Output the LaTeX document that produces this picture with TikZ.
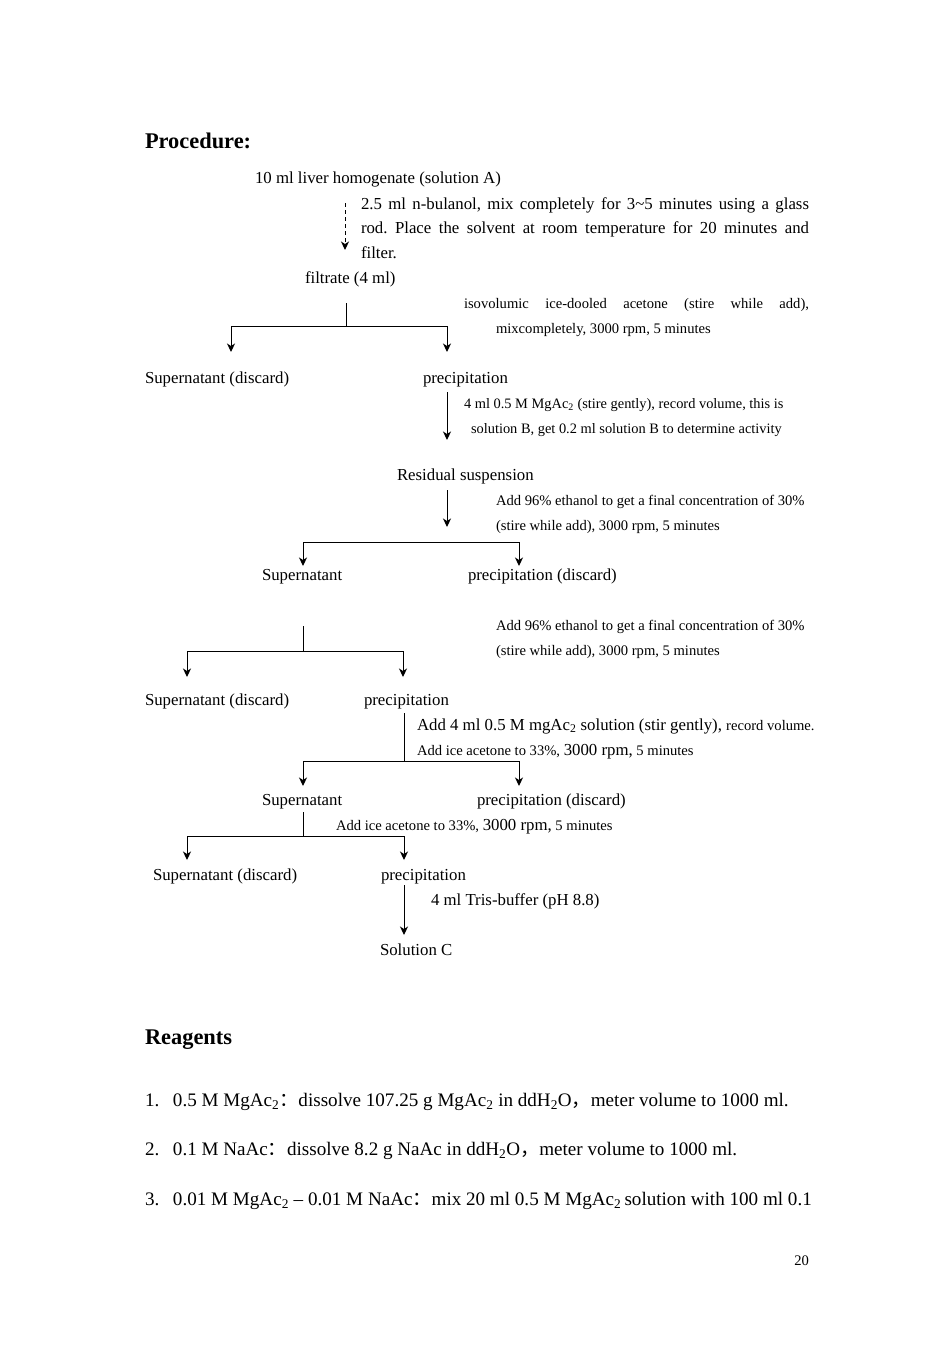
\documentclass[tikz,border=0pt]{standalone}
\usepackage{fontspec}
\setmainfont{Liberation Serif}
\newfontfamily\cjk{Noto Sans CJK SC}
\usetikzlibrary{arrows.meta}
\newcommand{\fc}{{\cjk ：}}
\newcommand{\fcm}{{\cjk ，}}
\newcommand{\sbt}[1]{\textsubscript{#1}}
\newcommand{\midf}{\fontsize{16.8}{24.6}\selectfont}
\newcommand{\smf}{\fontsize{14.6}{24.6}\selectfont}
\frenchspacing
\begin{document}
\begin{tikzpicture}[x=1pt,y=-1pt,
  every node/.style={inner sep=0pt, outer sep=0pt, anchor=base west},
  mid/.style={font=\midf},
  sm/.style={font=\smf},
  big/.style={font=\fontsize{19.1}{24}\selectfont},
  head/.style={font=\fontsize{22.4}{26}\selectfont\bfseries},
  ln/.style={line width=1pt},
  arr/.style={line width=1pt,-{Stealth[length=8.5pt,width=8pt,inset=2.5pt]}},
]
\useasboundingbox[fill=white] (0,0) rectangle (952,1347);

\node[head] (proc) at (145,148) {Procedure:};
\node[mid] (A) at (255,183) {10 ml liver homogenate (solution A)};
\coordinate (d1) at (345,203);
\coordinate (d2) at (345,250);
\draw[arr,dash pattern=on 4pt off 3pt] (d1) -- (d2);
\node[mid] (t1) at (361,209) {\hbox to 448pt{2.5 ml n-bulanol, mix completely for 3\textasciitilde5 minutes using a glass}};
\node[mid] (t2) at (361,233) {\hbox to 448pt{rod. Place the solvent at room temperature for 20 minutes and}};
\node[mid] (t3) at (361,258) {filter.};
\node[mid] (F) at (305,283) {filtrate (4 ml)};

\coordinate (s1) at (346,303);
\coordinate (j1) at (346,326);
\coordinate (a1) at (231,352);
\coordinate (a2) at (447,352);
\draw[ln] (s1) -- (j1);
\draw[arr] (j1) -| (a1);
\draw[arr] (j1) -| (a2);
\node[sm] (iso1) at (464,308) {\hbox to 345pt{isovolumic\hfill ice-dooled\hfill acetone\hfill (stire\hfill while\hfill add),}};
\node[sm] (iso2) at (496,333) {mixcompletely, 3000 rpm, 5 minutes};

\node[mid] (S1) at (145,383) {Supernatant (discard)};
\node[mid] (P1) at (423,383) {precipitation};
\coordinate (p1a) at (447,392);
\coordinate (p1b) at (447,440);
\draw[arr] (p1a) -- (p1b);
\node[font=\fontsize{14.4}{24}\selectfont] (b1) at (464,408) {4 ml 0.5 M MgAc\sbt{2} (stire gently), record volume, this is};
\node[font=\fontsize{14.4}{24}\selectfont] (b2) at (471,433) {solution B, get 0.2 ml solution B to determine activity};

\node[mid] (R) at (397,480) {Residual suspension};
\coordinate (r1a) at (447,490);
\coordinate (r1b) at (447,527);
\draw[arr] (r1a) -- (r1b);
\node[sm] (e1) at (496,505) {Add 96\% ethanol to get a final concentration of 30\%};
\node[sm] (e2) at (496,530) {(stire while add), 3000 rpm, 5 minutes};
\coordinate (j2) at (411,542);
\coordinate (a3) at (303,566);
\coordinate (a4) at (519,566);
\draw[arr] (j2) -| (a3);
\draw[arr] (j2) -| (a4);

\node[mid] (S2) at (262,580) {Supernatant};
\node[mid] (P2) at (468,580) {precipitation (discard)};
\coordinate (s3) at (303,626);
\coordinate (j3) at (303,651);
\coordinate (a5) at (187,677);
\coordinate (a6) at (403,677);
\draw[ln] (s3) -- (j3);
\draw[arr] (j3) -| (a5);
\draw[arr] (j3) -| (a6);
\node[sm] (e3) at (496,630) {Add 96\% ethanol to get a final concentration of 30\%};
\node[sm] (e4) at (496,655) {(stire while add), 3000 rpm, 5 minutes};

\node[mid] (S3) at (145,705) {Supernatant (discard)};
\node[mid] (P3) at (364,705) {precipitation};
\coordinate (s4) at (404,713);
\coordinate (j4) at (404,761);
\coordinate (a7) at (303,786);
\coordinate (a8) at (519,786);
\draw[ln] (s4) -- (j4);
\draw[arr] (j4) -| (a7);
\draw[arr] (j4) -| (a8);
\node[mid] (m1) at (417,730) {Add 4 ml 0.5 M mgAc\sbt{2} solution (stir gently), {\smf record volume.}};
\node[sm] (m2) at (417,755) {Add ice acetone to 33\%, {\midf 3000 rpm,} 5 minutes};

\node[mid] (S4) at (262,805) {Supernatant};
\node[mid] (P4) at (477,805) {precipitation (discard)};
\coordinate (s5) at (303,812);
\coordinate (j5) at (303,836);
\coordinate (a9) at (187,860);
\coordinate (a10) at (404,860);
\draw[ln] (s5) -- (j5);
\draw[arr] (j5) -| (a9);
\draw[arr] (j5) -| (a10);
\node[sm] (m3) at (336,830) {Add ice acetone to 33\%, {\midf 3000 rpm,} 5 minutes};

\node[mid] (S5) at (153,880) {Supernatant (discard)};
\node[mid] (P5) at (381,880) {precipitation};
\coordinate (p5a) at (404,885);
\coordinate (p5b) at (404,935);
\draw[arr] (p5a) -- (p5b);
\node[mid] (tris) at (431,905) {4 ml Tris-buffer (pH 8.8)};
\node[mid] (C) at (380,955) {Solution C};

\node[head] (reag) at (145,1044) {Reagents};
\node[big] (r1) at (145,1106) {\makebox[28pt][l]{1.}0.5 M MgAc\sbt{2}\fc dissolve 107.25 g MgAc\sbt{2} in ddH\sbt{2}O\fcm meter volume to 1000 ml.};
\node[big] (r2) at (145,1155) {\makebox[28pt][l]{2.}0.1 M NaAc\fc dissolve 8.2 g NaAc in ddH\sbt{2}O\fcm meter volume to 1000 ml.};
\node[big] (r3) at (145,1205) {\makebox[28pt][l]{3.}0.01 M MgAc\sbt{2} -- 0.01 M NaAc\fc mix 20 ml 0.5 M MgAc\sbt{2}\,solution with 100 ml 0.1};
\node[sm, anchor=base east] (pg) at (809,1265) {20};
\end{tikzpicture}
\end{document}
